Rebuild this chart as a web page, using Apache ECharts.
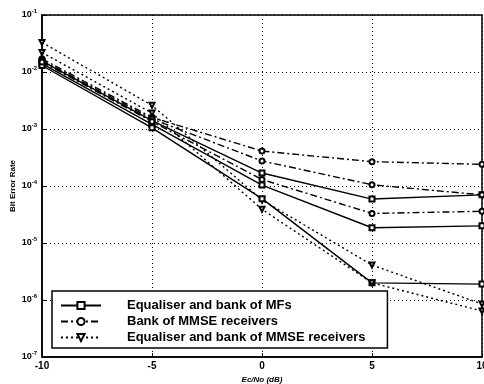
<!DOCTYPE html>
<html>
<head>
<meta charset="utf-8">
<script src="https://cdn.jsdelivr.net/npm/echarts@6/dist/echarts.min.js"></script>
<style>html,body{margin:0;padding:0;background:#fff;}#c{width:484px;height:384px;}</style>
</head>
<body>
<div id="c"></div>
<script>
const xValues = [-10, -5, 0, 5, 10];
const xTicks = [-10, -5, 0, 5, 10];
const legendNames = ['Equaliser and bank of MFs', 'Bank of MMSE receivers', 'Equaliser and bank of MMSE receivers'];

// Equaliser and bank of MFs (solid, squares)
const eqMF1 = [1.55e-2, 1.4e-3, 1.69e-4, 5.9e-5, 7.0e-5];
const eqMF2 = [1.4e-2, 1.2e-3, 1.04e-4, 1.85e-5, 2.0e-5];
const eqMF3 = [1.3e-2, 1.05e-3, 6.0e-5, 2.0e-6, 1.9e-6];
// Bank of MMSE receivers (dash-dot, circles)
const mmse1 = [1.7e-2, 1.6e-3, 4.1e-4, 2.67e-4, 2.4e-4];
const mmse2 = [1.6e-2, 1.5e-3, 2.75e-4, 1.05e-4, 7.0e-5];
const mmse3 = [1.5e-2, 1.35e-3, 1.3e-4, 3.3e-5, 3.6e-5];
// Equaliser and bank of MMSE receivers (dotted, triangles)
const eqMMSE1 = [3.3e-2, 2.6e-3, 5.7e-5, 4.1e-6, 8.5e-7];
const eqMMSE2 = [2.2e-2, 1.9e-3, 3.9e-5, 2.0e-6, 6.4e-7];

function pairs(arr) { return xValues.map((x, i) => [x, arr[i]]); }

const styles = [
  { type: 'solid', symbol: 'emptyRect', rotate: 0 },
  { type: [7, 3, 2, 3], symbol: 'emptyCircle', rotate: 0 },
  { type: [2, 3], symbol: 'emptyTriangle', rotate: 180 }
];

function mk(name, arr, k) {
  const s = styles[k];
  return {
    name: name, type: 'line', data: pairs(arr),
    symbol: s.symbol, symbolSize: 5, symbolRotate: s.rotate, showSymbol: true,
    lineStyle: { color: '#000', width: 1.4, type: s.type },
    itemStyle: { color: '#000', borderColor: '#000', borderWidth: 1.3 },
    animation: false
  };
}

const series = [
  mk(legendNames[0], eqMF1, 0),
  mk(legendNames[1], mmse1, 1),
  mk(legendNames[2], eqMMSE1, 2),
  mk(legendNames[0], eqMF2, 0),
  mk(legendNames[0], eqMF3, 0),
  mk(legendNames[1], mmse2, 1),
  mk(legendNames[1], mmse3, 1),
  mk(legendNames[2], eqMMSE2, 2)
];

const chart = echarts.init(document.getElementById('c'), null, { renderer: 'canvas' });
const font = 'Liberation Sans, Arial, sans-serif';
chart.setOption({
  animation: false,
  backgroundColor: '#fff',
  grid: { left: 42, right: 2, top: 15, bottom: 27, containLabel: false, outerBoundsMode: 'none',
    show: true, borderColor: '#000', borderWidth: 1.5, backgroundColor: 'transparent' },
  legend: {
    data: legendNames, orient: 'vertical', left: 52, top: 291,
    backgroundColor: '#fff', borderColor: '#000', borderWidth: 1.5,
    padding: [8, 22, 4, 8], itemWidth: 40, itemHeight: 9, itemGap: 3,
    textStyle: { color: '#000', fontSize: 13, fontWeight: 'bold', fontFamily: font, padding: [0, 0, 0, 21] }
  },
  xAxis: {
    type: 'value', min: -10, max: 10, interval: 5,
    name: 'Ec/No (dB)', nameLocation: 'middle', nameGap: 18,
    nameTextStyle: { color: '#000', fontSize: 8, fontStyle: 'italic', fontWeight: 'bold', fontFamily: font },
    axisLine: { onZero: false, lineStyle: { color: '#000', width: 1.5 } },
    axisTick: { inside: true, length: 4, lineStyle: { color: '#000' } },
    axisLabel: { color: '#000', fontSize: 10, fontWeight: 'bold', fontFamily: font, margin: 4,
      formatter: v => xTicks.includes(v) ? String(v) : '' },
    splitLine: { show: true, lineStyle: { color: '#000', type: [1, 3], width: 1 } }
  },
  yAxis: {
    type: 'log', logBase: 10, min: 1e-7, max: 1e-1,
    name: 'Bit Error Rate', nameLocation: 'middle', nameGap: 25, nameMoveOverlap: false,
    nameTextStyle: { color: '#000', fontSize: 8, fontWeight: 'bold', fontFamily: font },
    axisLine: { onZero: false, lineStyle: { color: '#000', width: 1.5 } },
    axisTick: { inside: true, length: 4, lineStyle: { color: '#000' } },
    minorTick: { show: false },
    axisLabel: {
      color: '#000', fontFamily: font, margin: 5,
      formatter: v => '{b|10}{s|' + Math.round(Math.log10(v)) + '}',
      rich: {
        b: { fontSize: 9, fontWeight: 'bold', color: '#000', fontFamily: font },
        s: { fontSize: 6, fontWeight: 'bold', color: '#000', fontFamily: font, verticalAlign: 'top', padding: [0, 0, 7, 0] }
      }
    },
    splitLine: { show: true, lineStyle: { color: '#000', type: [1, 3], width: 1 } }
  },
  series: series
});
</script>
</body>
</html>
